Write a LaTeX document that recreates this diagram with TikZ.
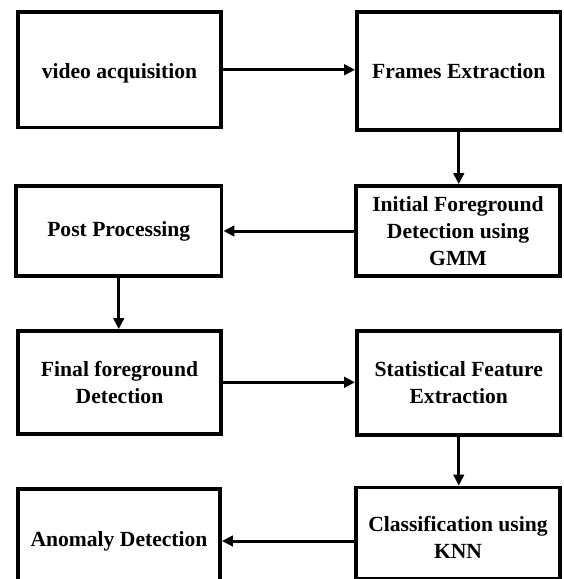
\documentclass[tikz,border=0pt]{standalone}
\usepackage{fontspec}
\setmainfont{Liberation Serif}
\usetikzlibrary{arrows.meta}
\begin{document}
\begin{tikzpicture}[x=1pt,y=-1pt,
  box/.style={draw, line width=3.8pt, rectangle, align=center,
    font=\fontsize{21.6}{27}\selectfont\bfseries, inner sep=0pt},
  arr/.style={line width=3pt, -{Triangle[length=11pt,width=10.5pt]}}]
\path[use as bounding box, clip] (0,0) rectangle (563,579);
\fill[white] (0,0) rectangle (563,579);
\node[box, minimum width=203pt, minimum height=115.5pt] (va) at (119.5,69.75) {\raisebox{-3.5pt}[\height][\depth]{video acquisition}};
\node[box, minimum width=203.5pt, minimum height=118pt] (fe) at (458.75,71) {Frames Extraction};
\node[box, minimum width=205.5pt, minimum height=90pt] (pp) at (118.75,231) {Post Processing};
\node[box, minimum width=204pt, minimum height=90pt] (ifd) at (458,231) {Initial Foreground\\Detection using\\GMM};
\node[box, minimum width=203pt, minimum height=102.6pt] (ffd) at (119.5,382.3) {Final foreground\\Detection};
\node[box, minimum width=203.5pt, minimum height=104pt] (sfe) at (458.75,383) {Statistical Feature\\Extraction};
\node[box, minimum width=202pt, minimum height=104pt] (ad) at (119,541) {Anomaly Detection};
\node[box, minimum width=204pt, minimum height=91pt] (cl) at (458,533) {\raisebox{-7pt}[\height][\depth]{\begin{tabular}{@{}c@{}}Classification using\\KNN\end{tabular}}};
\draw[arr] (va.east) -- (va.east -| fe.west);
\draw[arr] (fe.south) -- (fe.south |- ifd.north);
\draw[arr] (ifd.west) -- (ifd.west -| pp.east);
\draw[arr] (pp.south) -- (pp.south |- ffd.north);
\draw[arr] (ffd.east) -- (ffd.east -| sfe.west);
\draw[arr] (sfe.south) -- (sfe.south |- cl.north);
\draw[arr] (cl.west |- ad.east) -- (ad.east);
\end{tikzpicture}
\end{document}
